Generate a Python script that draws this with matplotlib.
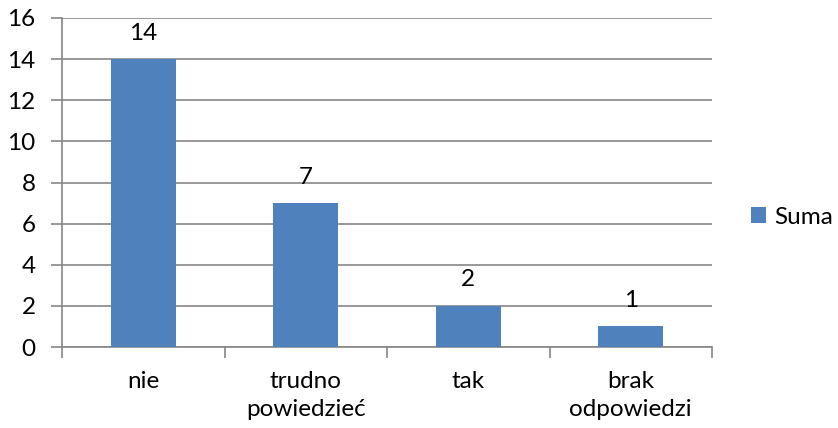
import matplotlib
matplotlib.use("Agg")
import matplotlib.pyplot as plt

categories = ["nie", "trudno\npowiedzieć", "tak", "brak\nodpowiedzi"]
values = [14, 7, 2, 1]
series_name = "Suma"
yticks = [0, 2, 4, 6, 8, 10, 12, 14, 16]

plt.rcParams['font.family'] = ['Lato', 'DejaVu Sans']
FS = 17.5
bar_color = "#4F81BD"
grid_color = "#868686"

fig = plt.figure(figsize=(8.38, 4.28), dpi=100)
ax = fig.add_axes([62/838, (428-347)/428, (712-62)/838, (347-18)/428])

x = list(range(len(categories)))
bars = ax.bar(x, values, width=0.40, color=bar_color, label=series_name, zorder=3)
for xi, v in zip(x, values):
    ax.text(xi, v + 0.75, str(v), ha="center", va="bottom", fontsize=FS, color="black", zorder=4)

ax.set_xlim(-0.5, len(categories) - 0.5)
ax.set_ylim(0, 16)
ax.set_yticks(yticks)
ax.set_yticklabels([str(t) for t in yticks], fontsize=FS)
ax.yaxis.grid(True, color=grid_color, linewidth=1.2, zorder=0)
ax.set_axisbelow(True)

ax.set_xticks(x)
ax.set_xticklabels(categories, fontsize=FS, linespacing=1.45)
ax.tick_params(axis="x", which="major", length=0, pad=17)
ax.set_xticks([i - 0.5 for i in range(len(categories) + 1)], minor=True)
ax.tick_params(axis="x", which="minor", length=8, width=1.2, color=grid_color)
ax.tick_params(axis="y", length=8, width=1.2, color=grid_color, pad=11)

for s in ["top", "right"]:
    ax.spines[s].set_visible(False)
for s in ["left", "bottom"]:
    ax.spines[s].set_color(grid_color)
    ax.spines[s].set_linewidth(1.2)

leg = fig.legend(handles=[bars], labels=[series_name], loc="center left",
                 bbox_to_anchor=(751/838, 1 - 217/428), frameon=False,
                 fontsize=FS, handlelength=0.6, handleheight=0.6, handletextpad=0.35,
                 borderpad=0, borderaxespad=0)

fig.savefig("out.png", dpi=100)
